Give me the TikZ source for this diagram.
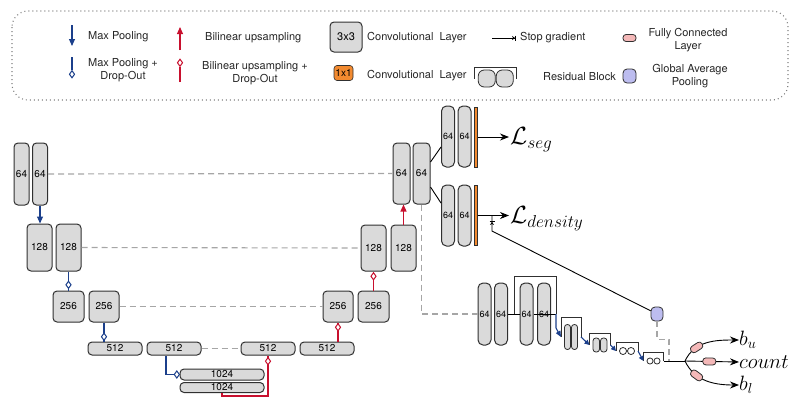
\documentclass[tikz,border=0pt]{standalone}
\usepackage{fontspec}
\setsansfont{TeX Gyre Heros}
\usetikzlibrary{arrows.meta,shapes.geometric,decorations.markings}
\definecolor{blockgray}{HTML}{DADADA}
\definecolor{edgegray}{HTML}{303030}
\definecolor{poolblue}{HTML}{1B3F8B}
\definecolor{upred}{HTML}{C8102E}
\definecolor{convorange}{HTML}{F28A30}
\definecolor{fcpink}{HTML}{F4B8B8}
\definecolor{gapblue}{HTML}{BDBDF0}
\definecolor{skipgray}{HTML}{A6A6A6}
\tikzset{
  conv/.style={draw=edgegray, fill=blockgray, line width=1pt, rounded corners=4pt, inner sep=0pt, font=\sffamily\fontsize{10}{12}\selectfont},
  onebyone/.style={draw=edgegray, fill=convorange, line width=0.6pt, inner sep=0pt},
  skip/.style={skipgray, line width=1.1pt, dash pattern=on 6pt off 4pt},
  poolarrow/.style={poolblue, line width=1.1pt},
  uparrow/.style={upred, line width=1.1pt},
  dropd/.style={diamond, draw=#1, fill=white, line width=1pt, inner sep=0pt, minimum width=5.5pt, minimum height=7.5pt},
  fc/.style={draw=edgegray, fill=fcpink, rounded corners=3pt, inner sep=0pt, minimum width=13pt, minimum height=7pt, line width=0.8pt, sloped},
  legtext/.style={font=\sffamily\fontsize{11}{13}\selectfont, text=black!85, align=center, inner sep=0pt},
  pill/.style={draw=edgegray, fill=blockgray, line width=0.8pt, inner sep=0pt, rounded corners=2.8pt},
  mathlbl/.style={font=\fontsize{23}{25}\selectfont, inner sep=1pt},
  outlbl/.style={font=\fontsize{20}{22}\selectfont, inner sep=0pt},
  head/.style={-{Stealth[length=9pt,width=7pt]}, line width=0.9pt}
}
\newcommand{\resblock}[7]{%
  \draw[edgegray, line width=0.8pt] (#2-#4-4,#3) |- (#2+#4+4,#6) -- (#2+#4+4,#3);
  \node[pill, minimum width=#4pt, minimum height=#5pt, #7] at (#2-#4/2-0.5,#3) {};
  \node[pill, minimum width=#4pt, minimum height=#5pt, #7] at (#2+#4/2+0.5,#3) {};
  \coordinate (#1-in) at (#2-#4-4,#3);
  \coordinate (#1-out) at (#2+#4+4,#3);
}
\begin{document}
\begin{tikzpicture}[x=1pt, y=-1pt]
\useasboundingbox (0,0) rectangle (800,405);

% legend
\draw[gray, line width=1.1pt, dash pattern=on 1pt off 3pt, rounded corners=16pt] (12,11) rectangle (788,100);
\draw[poolarrow, -{Triangle[length=7pt,width=6pt]}] (72,25) -- (72,46);
\node[legtext, anchor=west] (lmp) at (88,37) {Max Pooling};
\draw[poolarrow] (72,57) -- (72,70) node[dropd=poolblue, anchor=north]{};
\node[legtext] (lmpd) at (123,70) {Max Pooling +\\Drop-Out};
\draw[uparrow, -{Triangle[length=7pt,width=6pt]}] (180,50) -- (180,27);
\node[legtext, anchor=west] (lbu) at (205,38) {Bilinear upsampling};
\draw[uparrow] (180,82) -- (180,67) node[dropd=upred, anchor=south]{};
\node[legtext] (lbud) at (255,73) {Bilinear upsampling +\\Drop-Out};
\node[conv, minimum width=32pt, minimum height=30pt, font=\sffamily\fontsize{11}{13}\selectfont] (l33) at (346,37) {3x3};
\node[legtext, anchor=west] (lc33) at (367,38) {Convolutional~~Layer};
\node[onebyone, rounded corners=3pt, minimum width=19pt, minimum height=15pt, font=\sffamily\fontsize{10}{12}\selectfont] (l11) at (343.5,73) {1x1};
\node[legtext, anchor=west] (lc11) at (367,76) {Convolutional~~Layer};
\draw[line width=0.9pt, -{Stealth[length=3pt,width=4pt]Bar[width=5pt]}] (492,38) -- (516,38);
\node[legtext, anchor=west] (lsg) at (520,38) {Stop gradient};
\resblock{lres}{495.75}{78.5}{17}{17}{67}{rounded corners=6pt}
\node[legtext, anchor=west] (lrb) at (543,77) {Residual Block};
\node[fc, sloped=false] (lfc) at (629.5,38) {};
\node[legtext] (lfct) at (688,40) {Fully Connected\\Layer};
\node[draw=edgegray, fill=gapblue, rounded corners=4pt, minimum width=13pt, minimum height=14pt, line width=0.8pt] (lgap) at (629.5,76) {};
\node[legtext] (lgapt) at (690,76) {Global Average\\Pooling};

% encoder
\node[conv, minimum width=15pt, minimum height=62pt] (e1a) at (21.5,174) {64};
\node[conv, minimum width=15pt, minimum height=62pt] (e1b) at (40,174) {64};
\node[conv, minimum width=25pt, minimum height=47pt] (e2a) at (39.5,247.5) {128};
\node[conv, minimum width=25pt, minimum height=47pt] (e2b) at (68.5,247.5) {128};
\node[conv, minimum width=31pt, minimum height=31pt] (e3a) at (68.5,306.5) {256};
\node[conv, minimum width=30pt, minimum height=31pt] (e3b) at (104,306.5) {256};
\node[conv, minimum width=54pt, minimum height=13pt] (e4a) at (115,348.5) {512};
\node[conv, minimum width=54pt, minimum height=13pt] (e4b) at (174,348.5) {512};
\node[conv, minimum width=84pt, minimum height=11pt] (b1) at (222,374.5) {1024};
\node[conv, minimum width=84pt, minimum height=10pt] (b2) at (222,387.5) {1024};

% decoder
\node[conv, minimum width=54pt, minimum height=13pt] (d4a) at (268,348.5) {512};
\node[conv, minimum width=54pt, minimum height=13pt] (d4b) at (327,348.5) {512};
\node[conv, minimum width=30pt, minimum height=31pt] (d3a) at (338,306.5) {256};
\node[conv, minimum width=31pt, minimum height=31pt] (d3b) at (373.5,306.5) {256};
\node[conv, minimum width=25pt, minimum height=46pt] (d2a) at (373.5,248) {128};
\node[conv, minimum width=25pt, minimum height=46pt] (d2b) at (403.5,248) {128};
\node[conv, minimum width=17pt, minimum height=61pt] (d1a) at (401.5,173.5) {64};
\node[conv, minimum width=17pt, minimum height=61pt] (d1b) at (421.5,173.5) {64};

% heads
\node[conv, minimum width=13pt, minimum height=61pt, rounded corners=5pt, font=\sffamily\fontsize{9}{11}\selectfont] (s1a) at (448,136.5) {64};
\node[conv, minimum width=13pt, minimum height=61pt, rounded corners=5pt, font=\sffamily\fontsize{9}{11}\selectfont] (s1b) at (464.5,136.5) {64};
\node[onebyone, minimum width=2.5pt, minimum height=60pt] (o1) at (476,137) {};
\node[conv, minimum width=13pt, minimum height=61pt, rounded corners=5pt, font=\sffamily\fontsize{9}{11}\selectfont] (s2a) at (448,215.5) {64};
\node[conv, minimum width=13pt, minimum height=61pt, rounded corners=5pt, font=\sffamily\fontsize{9}{11}\selectfont] (s2b) at (464.5,215.5) {64};
\node[onebyone, minimum width=2.5pt, minimum height=60pt] (o2) at (476,215.5) {};
\node[mathlbl, anchor=west] (lseg) at (509,140) {$\mathcal{L}_{seg}$};
\node[mathlbl, anchor=west] (ldens) at (509,219) {$\mathcal{L}_{density}$};

% counting branch
\node[conv, minimum width=13pt, minimum height=62pt, rounded corners=5pt, font=\sffamily\fontsize{9}{11}\selectfont] (c1a) at (484.5,314) {64};
\node[conv, minimum width=13pt, minimum height=62pt, rounded corners=5pt, font=\sffamily\fontsize{9}{11}\selectfont] (c1b) at (501,314) {64};
\node[conv, minimum width=13pt, minimum height=62pt, rounded corners=5pt, font=\sffamily\fontsize{9}{11}\selectfont] (c1c) at (526.5,314) {64};
\node[conv, minimum width=13pt, minimum height=62pt, rounded corners=5pt, font=\sffamily\fontsize{9}{11}\selectfont] (c1d) at (544,314) {64};
\coordinate (rsum) at (556,314);
\resblock{r1}{571}{337}{6}{25}{317}{}
\resblock{r2}{600}{345}{6.5}{14}{333}{}
\resblock{r3}{627}{351}{7}{7}{342}{fill=white, rounded corners=3.4pt}
\resblock{r4}{653.5}{361}{6}{6}{352}{fill=white, rounded corners=2.9pt}
\node[draw=edgegray, fill=gapblue, rounded corners=4pt, minimum width=12pt, minimum height=14pt, line width=0.8pt] (gap) at (657,314) {};
\coordinate (br) at (685,361);
\coordinate (join) at (669,361);
\coordinate (sg) at (492,216);
\coordinate (sgbend) at (492,231);
\node[outlbl, anchor=west] (bu) at (739,340) {$b_u$};
\node[outlbl, anchor=west] (cnt) at (739,362) {$count$};
\node[outlbl, anchor=west] (bl) at (739,385) {$b_l$};

% skip connections
\draw[skip] (e1b.east) -- (d1a.west);
\draw[skip] (e2b.east) -- (d2a.west);
\draw[skip] (e3b.east) -- (d3a.west);
\draw[skip] (e4b.east) -- (d4a.west);
\draw[skip] (d1b.south) |- (c1a.west);
\draw[skip] (gap.south) -- ++(0,18) -| (join);

% pooling
\draw[poolarrow, -{Triangle[length=7pt,width=6pt]}] (e1b.south) -- (e1b.south |- e2a.north);
\draw[poolarrow] (e2b.south) -- node[pos=0.7, dropd=poolblue]{} (e3a.north);
\draw[poolarrow] (e3b.south) -- node[pos=0.75, dropd=poolblue]{} (e3b.south |- e4a.north);
\draw[poolarrow] ([xshift=-8pt]e4b.south) |- node[pos=0.9, dropd=poolblue]{} (b1.west);

% upsampling
\draw[uparrow] (b2.south) -- ++(0,3) -| node[pos=0.93, dropd=upred]{} (d4a.south);
\draw[uparrow] (d3a.south |- d4b.north) -- node[pos=0.75, dropd=upred]{} (d3a.south);
\draw[uparrow] (d3b.north) -- node[pos=0.75, dropd=upred]{} (d2a.south);
\draw[uparrow, -{Triangle[length=7pt,width=6pt]}] (d2b.north) -- (d2b.north |- d1a.south);

% heads and losses
\draw[line width=0.9pt] ([yshift=11.5pt]d1b.east) -- ([yshift=-10.5pt]s1a.west);
\draw[line width=0.9pt] ([yshift=-13.5pt]d1b.east) -- ([yshift=12.5pt]s2a.west);
\draw[head] (o1.east) -- (o1.east -| lseg.west);
\draw[head] (o2.east) -- (o2.east -| ldens.west);
\draw[line width=0.9pt, postaction={decorate, decoration={markings, mark=at position -5pt with {\arrow{Stealth[length=3pt,width=4pt]Bar[width=5pt]}}}}] (gap) -- (sgbend) -- (sg);

% counting
\draw[line width=0.9pt] (c1b.east) -- (c1c.west);
\draw[line width=0.9pt] (c1c.east) -- (c1d.east);
\draw[edgegray, line width=0.8pt] ([xshift=6pt]c1b.east) |- (556,276) -- (rsum);
\draw[line width=0.9pt] (c1d.east) -- (rsum);
\draw[poolarrow, -{Triangle[length=6pt,width=5pt]}] (rsum) -- (556,328) -- (r1-in);
\draw[poolarrow, -{Triangle[length=5pt,width=5pt]}] (r1-out) -- (r2-in);
\draw[poolarrow, -{Triangle[length=5pt,width=5pt]}] (r2-out) -- (r3-in);
\draw[poolarrow, -{Triangle[length=5pt,width=5pt]}] (r3-out) -- (r4-in);
\draw[line width=0.9pt] (r4-out) -- (br);
\draw[head] (br) to[out=65, in=180] node[fc, pos=0.3]{} (bu.west);
\draw[head] (br) -- node[fc, pos=0.45]{} (cnt.west);
\draw[head] (br) to[out=-65, in=180] node[fc, pos=0.3]{} (bl.west);
\end{tikzpicture}
\end{document}
